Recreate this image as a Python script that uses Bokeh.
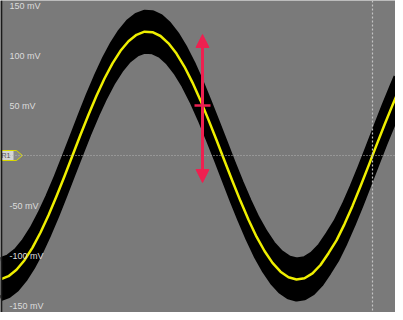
from bokeh.plotting import figure
from bokeh.models import Span, Arrow, NormalHead, Range1d
from bokeh.core.properties import value
from bokeh.embed import file_html
from bokeh.resources import INLINE

# waveform samples (time in screen units, voltage in mV)
t = [0, 8, 16, 24, 32, 40, 48, 56, 64, 72, 80, 88, 96, 104, 112, 120, 128, 136,
     144, 152, 160, 168, 176, 184, 192, 200, 208, 216, 224, 232, 240, 248, 256,
     264, 272, 280, 288, 296, 304, 312, 320, 328, 336, 344, 352, 360, 368, 376,
     384, 392, 396]
mv = [-123.8, -120.7, -114.3, -104.7, -92.1, -77.0, -59.7, -40.8, -20.7, 0.0,
      20.7, 40.8, 59.7, 77.0, 92.1, 104.7, 114.3, 120.7, 123.8, 123.3, 119.5,
      112.2, 101.9, 88.7, 72.9, 55.1, 35.6, 15.5, -5.2, -25.8, -45.6, -64.2,
      -81.2, -95.5, -107.4, -116.2, -121.8, -124.0, -122.8, -117.9, -109.5,
      -97.7, -84.9, -68.6, -50.4, -30.8, -10.4, 10.4, 30.8, 50.4, 59.7]
noise_mv = 19  # half-width of the persistence (noise) band

tick_vals = [150, 100, 50, -50, -100, -150]
tick_labels = ["150 mV", "100 mV", "50 mV", "-50 mV", "-100 mV", "-150 mV"]

marker_t = 202
marker_top = 121
marker_bottom = -27
marker_level = 50
cursor_t = 372
ref_label = "R1"

upper = [v + noise_mv for v in mv]
lower = [v - noise_mv for v in mv]

BG = "#7a7a7a"
p = figure(width=395, height=312, output_backend="svg", toolbar_location=None,
           x_range=Range1d(0, 395), y_range=Range1d(-157, 155),
           min_border=0, background_fill_color=BG, border_fill_color=BG)
p.axis.visible = False
p.grid.visible = False
p.outline_line_color = None

# grid: zero line and cursor
p.add_layout(Span(location=0, dimension="width", line_color="#b4b4b4",
                  line_width=1, line_dash="1 2"))
p.add_layout(Span(location=cursor_t, dimension="height", line_color="#c4c4c4",
                  line_width=1.2, line_dash="2 2"))
p.add_layout(Span(location=0.8, dimension="height", line_color="#1a1a1a",
                  line_width=2))

# noise band
p.varea(x=t, y1=lower, y2=upper, fill_color="black")
p.line(t, upper, line_color="black", line_width=6, line_join="round")
p.line(t, lower, line_color="black", line_width=6, line_join="round")

# waveform
p.line(t, mv, line_color="#eeee00", line_width=2.5, line_join="round")

# tick labels
p.text(x=[9] * len(tick_vals), y=tick_vals, text=tick_labels,
       text_font=value("Liberation Sans"), text_font_size="9px",
       text_color="#dcdcdc", text_baseline="middle", text_align="left")

# reference marker
p.patch([0, 16, 22, 16, 0], [5, 5, 0, -5, -5], fill_color="#8a8a8a",
        line_color="#d8d800", line_width=1)
p.quad(left=[0], right=[13], bottom=[-4.5], top=[4.5], fill_color="#d4d4d4",
       line_color=None)
p.text(x=[1], y=[0], text=[ref_label], text_font=value("Liberation Sans"),
       text_font_size="7px", text_color="#505050", text_baseline="middle")

# red measurement arrow
red = "#ee2050"
p.add_layout(Arrow(x_start=marker_t, y_start=marker_bottom, x_end=marker_t,
                   y_end=marker_top, line_color=red, line_width=3,
                   start=NormalHead(size=13, fill_color=red, line_color=red),
                   end=NormalHead(size=13, fill_color=red, line_color=red)))
p.segment(x0=[marker_t - 8], y0=[marker_level], x1=[marker_t + 8],
          y1=[marker_level], line_color=red, line_width=2.5)

open("out.html", "w").write(file_html(p, INLINE))
